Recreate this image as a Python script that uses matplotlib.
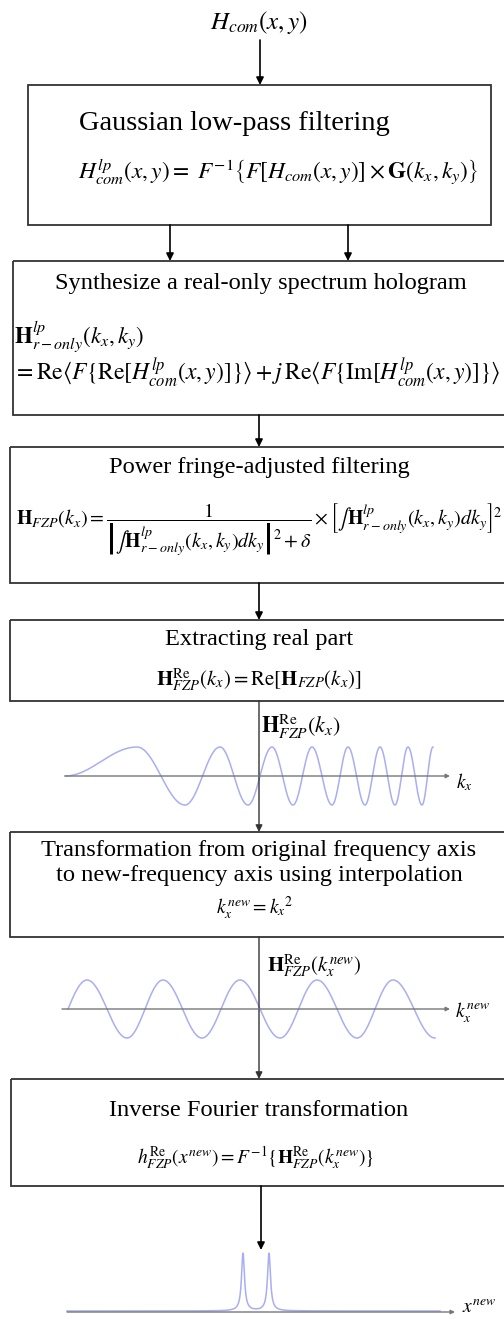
import numpy as np
import matplotlib
matplotlib.use('Agg')
import matplotlib.pyplot as plt
from matplotlib.patches import Polygon

plt.rcParams['font.family'] = ['Liberation Serif', 'DejaVu Serif']
plt.rcParams['mathtext.fontset'] = 'stix'

# step titles and formulas
titles = [
  'Gaussian low-pass filtering',
  'Synthesize a real-only spectrum hologram',
  'Power fringe-adjusted filtering',
  'Extracting real part',
  'Transformation from original frequency axis\nto new-frequency axis using interpolation',
  'Inverse Fourier transformation',
]
formulas = [
  r'$H^{lp}_{com}\left(x,y\right) = \ F^{-1}\left\{F\left[H_{com}(x,y)\right]\times\mathbf{G}\left(k_x,k_y\right)\right\}$',
  r'$\mathbf{H}^{lp}_{r-only}\left(k_x,k_y\right)$',
  r'$=\mathrm{Re}\langle F\{\mathrm{Re}[H^{lp}_{com}(x,y)]\}\rangle + j\,\mathrm{Re}\langle F\{\mathrm{Im}[H^{lp}_{com}(x,y)]\}\rangle$',
  r'$\mathbf{H}_{FZP}(k_x)=\dfrac{1}{\left|\int\mathbf{H}^{lp}_{r-only}(k_x,k_y)dk_y\right|^2+\delta}\times\left[\int\mathbf{H}^{lp}_{r-only}(k_x,k_y)dk_y\right]^2$',
  r'$\mathbf{H}^{\mathrm{Re}}_{FZP}(k_x) = \mathrm{Re}[\mathbf{H}_{FZP}(k_x)]$',
  r'$k_x^{new} = k_x{}^2$',
  r'$h^{\mathrm{Re}}_{FZP}(x^{new}) = F^{-1}\{\mathbf{H}^{\mathrm{Re}}_{FZP}(k_x^{new})\}$',
]
input_label = r'$H_{com}\left(x,y\right)$'
wave_labels = [r'$\mathbf{H}^{\mathrm{Re}}_{FZP}(k_x)$', r'$\mathbf{H}^{\mathrm{Re}}_{FZP}(k_x^{new})$']
axis_labels = [r'$k_x$', r'$k_x^{new}$', r'$x^{new}$']

# waveforms: extremum positions (px) and sign
chirp_x = [65, 137, 185, 220, 248, 272, 293, 312, 332, 348, 365, 380, 395, 408, 422, 433]
chirp_v = [0, 1, -1, 1, -1, 1, -1, 1, -1, 1, -1, 1, -1, 1, -1, 1]
sine_x = [68, 87, 127, 163, 202, 240, 280, 317, 357, 393, 435]
sine_v = [0, 1, -1, 1, -1, 1, -1, 1, -1, 1, -1]
peak_x = [243, 269]
peak_h = 58

# layout (pixels)
box_l = [28, 13, 10, 10, 10, 11]
box_t = [85, 261, 447, 620, 832, 1079]
box_b = [225, 415, 583, 701, 937, 1186]
box_r = [491, 520, 520, 520, 520, 520]

wave_col = '#a9aef2'


def knots_curve(xs, vs, quarter_start=False):
  px, py = [], []
  for i in range(len(xs) - 1):
    t = np.linspace(0, 1, 40)
    x0, x1, v0, v1 = xs[i], xs[i+1], vs[i], vs[i+1]
    if i == 0 and quarter_start:
      y = v1*np.sin(np.pi/2*t)
    else:
      y = v0 + (v1 - v0)*(1 - np.cos(np.pi*t))/2
    px.extend(x0 + (x1 - x0)*t)
    py.extend(y)
  return np.array(px), np.array(py)


def arrow(ax, x, y0, y1, col='black', lw=1.2, ms=11):
  ax.annotate('', xy=(x, y1), xytext=(x, y0),
              arrowprops=dict(arrowstyle='-|>', color=col, lw=lw,
                              mutation_scale=ms, shrinkA=0, shrinkB=0))


def haxis(ax, x0, x1, y):
  ax.annotate('', xy=(x1, y), xytext=(x0, y),
              arrowprops=dict(arrowstyle='-|>', color='#777777', lw=1.0,
                              mutation_scale=6, shrinkA=0, shrinkB=0))


def main():
  fig = plt.figure(figsize=(5.04, 13.19), dpi=100)
  ax = fig.add_axes([0, 0, 1, 1])
  ax.set_xlim(0, 504)
  ax.set_ylim(1319, 0)
  ax.axis('off')

  for l, t, b, r in zip(box_l, box_t, box_b, box_r):
    ax.add_patch(Polygon([[l, t], [r, t], [r, b], [l, b]], closed=True,
                         fill=False, ec='#333333', lw=1.3))

  ax.text(259, 22, input_label, ha='center', va='center', fontsize=18)
  arrow(ax, 260, 40, 85)

  # box 1
  ax.text(234, 124, titles[0], ha='center', va='center', fontsize=20.5)
  ax.text(278, 172, formulas[0], ha='center', va='center', fontsize=16.8)
  arrow(ax, 170, 225, 261)
  arrow(ax, 348, 225, 261)

  # box 2
  ax.text(261, 283, titles[1], ha='center', va='center', fontsize=17.6)
  ax.text(14, 337, formulas[1], ha='left', va='center', fontsize=16.5)
  ax.text(13, 373, formulas[2], ha='left', va='center', fontsize=17)
  arrow(ax, 259, 415, 447)

  # box 3
  ax.text(259, 467, titles[2], ha='center', va='center', fontsize=17.6)
  ax.text(16, 530, formulas[3], ha='left', va='center', fontsize=14.4)
  arrow(ax, 259, 583, 620)

  # box 4
  ax.text(259, 640, titles[3], ha='center', va='center', fontsize=17.6)
  ax.text(259, 680, formulas[4], ha='center', va='center', fontsize=15)

  # chirp spectrum
  arrow(ax, 259, 701, 832, col='#333333', lw=1.0, ms=10)
  ax.text(261, 727, wave_labels[0], ha='left', va='center', fontsize=16)
  haxis(ax, 65, 450, 776)
  ax.text(456, 782, axis_labels[0], ha='left', va='center', fontsize=14)
  cx, cy = knots_curve(chirp_x, chirp_v)
  ax.plot(cx, 776 - 29*cy, color=wave_col, lw=1.1)

  # box 5
  ax.text(259, 863, titles[4], ha='center', va='center', fontsize=17.6, linespacing=1.2)
  ax.text(255, 908, formulas[5], ha='center', va='center', fontsize=14)

  # resampled spectrum
  arrow(ax, 259, 937, 1079, col='#333333', lw=1.0, ms=10)
  ax.text(267, 966, wave_labels[1], ha='left', va='center', fontsize=15)
  haxis(ax, 62, 450, 1009)
  ax.text(455, 1013, axis_labels[1], ha='left', va='center', fontsize=14)
  sx, sy = knots_curve(sine_x, sine_v, quarter_start=True)
  ax.plot(sx, 1009 - 29*sy, color=wave_col, lw=1.1)

  # box 6
  ax.text(259, 1110, titles[5], ha='center', va='center', fontsize=17.6)
  ax.text(256, 1158, formulas[6], ha='center', va='center', fontsize=14)
  arrow(ax, 261, 1186, 1250)

  # reconstructed signal
  haxis(ax, 67, 455, 1312)
  ax.text(462, 1308, axis_labels[2], ha='left', va='center', fontsize=14)
  xx = np.linspace(67, 440, 2000)
  yy = np.zeros_like(xx)
  for p in peak_x:
    yy += 1/(1 + ((xx - p)/1.8)**2)
  ax.plot(xx, 1311 - peak_h*yy/yy.max(), color=wave_col, lw=1.1)

  fig.savefig('out.png', dpi=100)


if __name__ == "__main__":
  main()
